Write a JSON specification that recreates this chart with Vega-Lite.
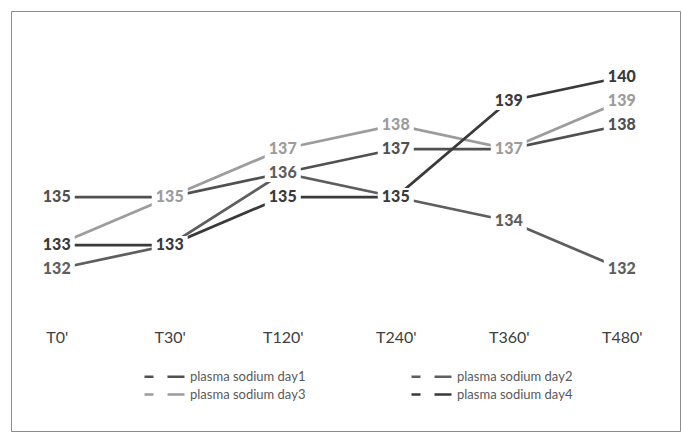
{
"$schema": "https://vega.github.io/schema/vega-lite/v6.json",
"width": 669, "height": 420,
"autosize": {"type": "none"},
"padding": {"left": 11, "top": 11, "right": 2, "bottom": 6},
"background": "white",
"config": {"view": {"stroke": "#8c8c8c", "strokeWidth": 1}, "font": "Lato"},
"data": {"values": [
 {"time": "T0'", "series": "plasma sodium day1", "value": 135},
 {"time": "T30'", "series": "plasma sodium day1", "value": 135},
 {"time": "T120'", "series": "plasma sodium day1", "value": 136},
 {"time": "T240'", "series": "plasma sodium day1", "value": 137},
 {"time": "T360'", "series": "plasma sodium day1", "value": 137},
 {"time": "T480'", "series": "plasma sodium day1", "value": 138},
 {"time": "T0'", "series": "plasma sodium day2", "value": 132},
 {"time": "T30'", "series": "plasma sodium day2", "value": 133},
 {"time": "T120'", "series": "plasma sodium day2", "value": 136},
 {"time": "T240'", "series": "plasma sodium day2", "value": 135},
 {"time": "T360'", "series": "plasma sodium day2", "value": 134},
 {"time": "T480'", "series": "plasma sodium day2", "value": 132},
 {"time": "T0'", "series": "plasma sodium day3", "value": 133},
 {"time": "T30'", "series": "plasma sodium day3", "value": 135},
 {"time": "T120'", "series": "plasma sodium day3", "value": 137},
 {"time": "T240'", "series": "plasma sodium day3", "value": 138},
 {"time": "T360'", "series": "plasma sodium day3", "value": 137},
 {"time": "T480'", "series": "plasma sodium day3", "value": 139},
 {"time": "T0'", "series": "plasma sodium day4", "value": 133},
 {"time": "T30'", "series": "plasma sodium day4", "value": 133},
 {"time": "T120'", "series": "plasma sodium day4", "value": 135},
 {"time": "T240'", "series": "plasma sodium day4", "value": 135},
 {"time": "T360'", "series": "plasma sodium day4", "value": 139},
 {"time": "T480'", "series": "plasma sodium day4", "value": 140}
]},
"encoding": {
 "x": {"field": "time", "type": "ordinal", "sort": ["T0'", "T30'", "T120'", "T240'", "T360'", "T480'"],
  "scale": {"type": "point", "padding": 0.46, "align": 0.44},
  "axis": {"orient": "bottom", "offset": -94, "domain": false, "ticks": false, "tickSize": 0, "labelPadding": 0, "labelBaseline": "middle", "labelFontSize": 16, "labelColor": "#404040", "labelAngle": 0, "title": null, "labelFont": "Lato", "grid": false}},
 "y": {"field": "value", "type": "quantitative", "scale": {"domain": [125.25, 142.75], "nice": false, "zero": false}, "axis": null}
},
"layer": [
 {"mark": {"type": "line", "strokeWidth": 2.75},
  "encoding": {"color": {"field": "series", "type": "nominal",
   "scale": {"domain": ["plasma sodium day1", "plasma sodium day2", "plasma sodium day3", "plasma sodium day4"], "range": ["#505050", "#5e5e5e", "#9c9c9c", "#3a3a3a"]},
   "legend": {"orient": "none", "legendX": 132, "legendY": 359, "direction": "horizontal", "columns": 2, "symbolType": "M-1,0H0.8M3.6,0H7", "symbolSize": 100, "symbolStrokeWidth": 2.5, "symbolFillColor": "transparent", "labelFontSize": 13, "labelColor": "#595959", "labelFont": "Lato", "title": null, "columnPadding": 100, "rowPadding": 4, "labelOffset": 34}}}},
 {"transform": [
   {"window": [{"op": "row_number", "as": "rk"}], "groupby": ["time", "value"], "sort": [{"field": "series", "order": "descending"}]},
   {"filter": "datum.rk == 1"}],
  "mark": {"type": "point", "shape": "M-1,-0.5H1V0.5H-1Z", "size": 1296, "filled": true, "color": "white", "opacity": 1}},
 {"transform": [
   {"window": [{"op": "row_number", "as": "rk"}], "groupby": ["time", "value"], "sort": [{"field": "series", "order": "descending"}]},
   {"filter": "datum.rk == 1"}],
  "mark": {"type": "text", "fontSize": 16, "fontWeight": 900, "font": "Lato", "baseline": "middle", "align": "center"},
  "encoding": {"text": {"field": "value", "type": "quantitative"}, "color": {"field": "series", "type": "nominal", "legend": null}}}
]
}
